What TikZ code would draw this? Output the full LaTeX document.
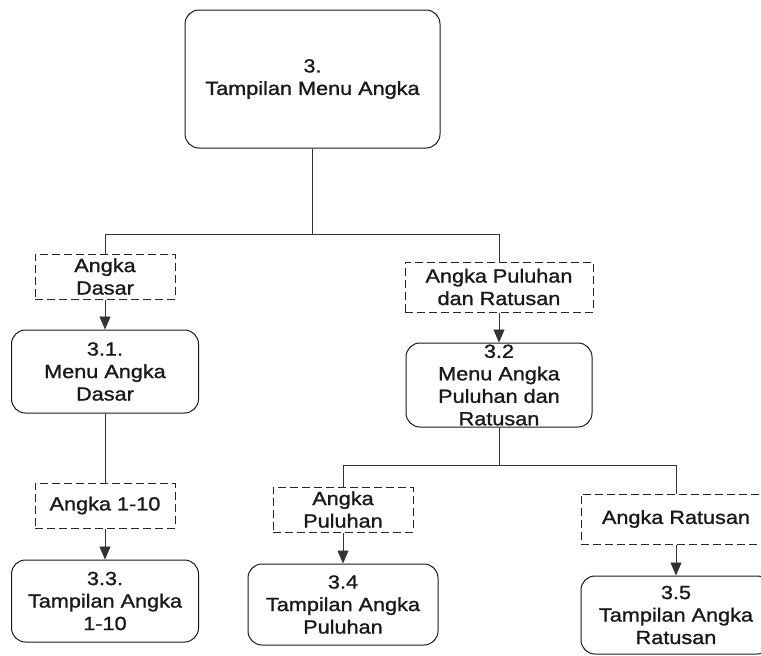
\documentclass[tikz,border=0pt]{standalone}
\usepackage{fontspec}
\setmainfont[FakeStretch=1.14,FakeBold=1.2]{Liberation Sans}
\usetikzlibrary{arrows.meta}
\begin{document}
\begin{tikzpicture}[x=1pt,y=-1pt,
  every node/.style={font=\fontsize{19}{22.5}\selectfont, align=center, inner sep=0pt, text=black!90},
  proc/.style={draw=black!90, line width=1pt, rounded corners=14pt},
  flow/.style={draw=black!85, line width=1pt, dash pattern=on 8pt off 4pt},
  conn/.style={draw=black!80, line width=0.8pt},
  arr/.style={conn, -{Triangle[length=13pt,width=11pt]}}
]
\useasboundingbox (0,0) rectangle (761,656);
\clip (0,0) rectangle (761,656);
\node[proc, minimum width=255pt, minimum height=138pt] (t) at (312.5,79) {3.\\Tampilan Menu Angka};
\node[flow, minimum width=140pt, minimum height=45pt] (d1) at (105,276.5) {Angka\\Dasar};
\node[proc, minimum width=187pt, minimum height=83pt] (p1) at (105,371.5) {3.1.\\Menu Angka\\Dasar};
\node[flow, minimum width=188pt, minimum height=50pt] (d2) at (499,287) {Angka Puluhan\\dan Ratusan};
\node[proc, minimum width=186pt, minimum height=84pt, inner ysep=-2pt] (p2) at (499,385) {3.2\\Menu Angka\\Puluhan dan\\Ratusan};
\node[flow, minimum width=140pt, minimum height=45pt] (d3) at (105,505.5) {Angka 1-10};
\node[proc, minimum width=187pt, minimum height=82pt] (p3) at (105,601) {3.3.\\Tampilan Angka\\1-10};
\node[flow, minimum width=140pt, minimum height=45pt] (d4) at (343,509.5) {Angka\\Puluhan};
\node[proc, minimum width=190pt, minimum height=81pt] (p4) at (343,604.5) {3.4\\Tampilan Angka\\Puluhan};
\node[flow, minimum width=190pt, minimum height=50pt] (d5) at (676,519) {Angka Ratusan};
\node[proc, minimum width=190pt, minimum height=78pt] (p5) at (676,615) {3.5\\Tampilan Angka\\Ratusan};
\coordinate (j1) at (312.5,234);
\coordinate (j2) at (499,465);
\draw[conn] (t.south) -- (j1);
\draw[conn] (j1) -| (d1.north);
\draw[conn] (j1) -| (d2.north);
\draw[arr] (d1.south) -- (p1.north);
\draw[arr] (d2.south) -- (p2.north);
\draw[conn] (p1.south) -- (d3.north);
\draw[arr] (d3.south) -- (p3.north);
\draw[conn] (p2.south) -- (j2);
\draw[conn] (j2) -| (d4.north);
\draw[conn] (j2) -| (d5.north);
\draw[arr] (d4.south) -- (p4.north);
\draw[arr] (d5.south) -- (p5.north);
\end{tikzpicture}
\end{document}
